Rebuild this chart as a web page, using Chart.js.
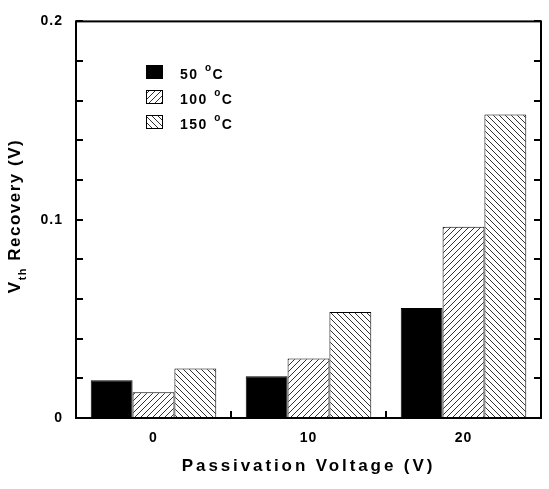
<!DOCTYPE html>
<html>
<head>
<meta charset="utf-8">
<style>
    html, body { margin: 0; padding: 0; background: #fff; }
    #wrap { width: 549px; height: 489px; }
</style>
</head>
<body>
<div id="wrap">
    <canvas id="recovery-chart" width="549" height="489"></canvas>
</div>

<script src="https://cdn.jsdelivr.net/npm/chart.js"></script>

<script>
    const categories = ['0', '10', '20'];
    const seriesLabels = ['50', '100', '150'];
    const unitLabel = 'C';
    const temp50 = [0.019, 0.021, 0.0555];
    const temp100 = [0.013, 0.030, 0.0965];
    const temp150 = [0.025, 0.0535, 0.153];
    const yTickLabels = ['0', '0.1', '0.2'];

    const FONT = '"Liberation Sans", Arial, sans-serif';

    function hatch(dir) {
        const s = 6;
        const c = document.createElement('canvas');
        c.width = s;
        c.height = s;
        const g = c.getContext('2d');
        g.fillStyle = '#fff';
        g.fillRect(0, 0, s, s);
        g.strokeStyle = '#333';
        g.lineWidth = 1;
        g.beginPath();
        if (dir === '/') {
            g.moveTo(-1, s + 1); g.lineTo(s + 1, -1);
            g.moveTo(-1, 1); g.lineTo(1, -1);
            g.moveTo(s - 1, s + 1); g.lineTo(s + 1, s - 1);
        } else {
            g.moveTo(-1, -1); g.lineTo(s + 1, s + 1);
            g.moveTo(s - 1, -1); g.lineTo(s + 1, 1);
            g.moveTo(-1, s - 1); g.lineTo(1, s + 1);
        }
        g.stroke();
        return g.createPattern(c, 'repeat');
    }

    const ctx = document.getElementById('recovery-chart');
    const fills = ['#000', hatch('/'), hatch('\\')];

    // frame, inward ticks, legend and axis titles
    const decor = {
        id: 'decor',
        beforeDraw(chart) {
            // wider spacing for the tick labels drawn by chart.js
            chart.ctx.letterSpacing = '1px';
        },
        afterDraw(chart) {
            const c = chart.ctx;
            const a = chart.chartArea;
            const y = chart.scales.y;
            const x = chart.scales.x;

            c.save();
            c.strokeStyle = '#000';
            c.lineWidth = 2;
            c.strokeRect(a.left, a.top, a.right - a.left, a.bottom - a.top);

            c.beginPath();
            for (let v = 0; v <= 0.2001; v += 0.02) {
                const py = Math.round(y.getPixelForValue(v));
                c.moveTo(a.left, py); c.lineTo(a.left + 7, py);
                c.moveTo(a.right, py); c.lineTo(a.right - 7, py);
            }
            for (let i = 0; i < categories.length - 1; i++) {
                const px = (x.getPixelForValue(i) + x.getPixelForValue(i + 1)) / 2;
                c.moveTo(px, a.bottom); c.lineTo(px, a.bottom - 7);
            }
            c.stroke();

            // legend
            c.letterSpacing = '1.5px';
            c.textBaseline = 'alphabetic';
            c.textAlign = 'left';
            chart.data.datasets.forEach((ds, i) => {
                const cy = 72 + i * 25;
                c.fillStyle = ds.backgroundColor;
                c.fillRect(146, cy - 7, 17, 14);
                c.strokeStyle = '#000';
                c.lineWidth = 1;
                c.strokeRect(146.5, cy - 6.5, 16, 13);
                c.fillStyle = '#000';
                let tx = 180;
                c.font = 'bold 14px ' + FONT;
                c.fillText(ds.label + ' ', tx, cy + 7);
                tx += c.measureText(ds.label + ' ').width + 1;
                c.font = 'bold 10px ' + FONT;
                c.fillText('o', tx, cy - 1);
                tx += c.measureText('o').width;
                c.font = 'bold 14px ' + FONT;
                c.fillText(unitLabel, tx, cy + 7);
            });

            // x title
            c.font = 'bold 17px ' + FONT;
            c.letterSpacing = '2.9px';
            c.textAlign = 'center';
            c.textBaseline = 'middle';
            c.fillText('Passivation Voltage (V)', (a.left + a.right) / 2, 466);

            // y title with subscript
            c.translate(20, 216);
            c.rotate(-Math.PI / 2);
            c.textAlign = 'left';
            c.textBaseline = 'alphabetic';
            c.letterSpacing = '1.5px';
            const main = ' Recovery (V)';
            c.font = 'bold 17px ' + FONT;
            const wV = c.measureText('V').width;
            const wM = c.measureText(main).width;
            c.font = 'bold 11px ' + FONT;
            const wS = c.measureText('th').width;
            let sx = -(wV + wS + wM) / 2;
            c.font = 'bold 17px ' + FONT;
            c.fillText('V', sx, 0);
            sx += wV;
            c.font = 'bold 11px ' + FONT;
            c.fillText('th', sx, 6);
            sx += wS;
            c.font = 'bold 17px ' + FONT;
            c.fillText(main, sx, 0);
            c.restore();
        }
    };

    new Chart(ctx, {
        type: 'bar',
        data: {
            labels: categories,
            datasets: [temp50, temp100, temp150].map((data, i) => ({
                label: seriesLabels[i],
                data,
                backgroundColor: fills[i],
                borderColor: '#000',
                borderWidth: 1,
                categoryPercentage: 0.81,
                barPercentage: 1
            }))
        },
        options: {
            responsive: false,
            animation: false,
            layout: { padding: { top: 15, right: 8, left: 0, bottom: 0 } },
            plugins: {
                legend: { display: false },
                tooltip: { enabled: false }
            },
            scales: {
                x: {
                    grid: { display: false, drawTicks: false },
                    border: { display: false },
                    ticks: {
                        color: '#000',
                        padding: 12,
                        font: { family: FONT, size: 14, weight: 'bold' }
                    },
                    afterFit: (s) => { s.height = 71; }
                },
                y: {
                    min: 0,
                    max: 0.2,
                    grid: { display: false, drawTicks: false },
                    border: { display: false },
                    ticks: {
                        stepSize: 0.02,
                        autoSkip: false,
                        color: '#000',
                        padding: 13,
                        font: { family: FONT, size: 14, weight: 'bold' },
                        callback: (value) => {
                            const idx = Math.round(value * 10);
                            if (Math.abs(value * 10 - idx) < 1e-6) {
                                return yTickLabels[idx];
                            }
                            return '';
                        }
                    },
                    afterFit: (s) => { s.width = 76; }
                }
            }
        },
        plugins: [decor]
    });
</script>
</body>
</html>
